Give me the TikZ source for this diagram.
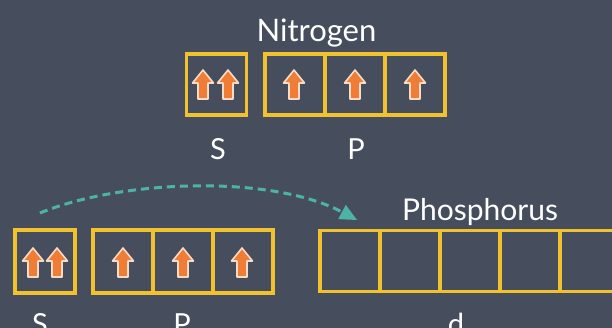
\documentclass[tikz,border=0pt]{standalone}
\usepackage{fontspec}
\setmainfont{Lato}
\usetikzlibrary{calc}
\definecolor{bg}{HTML}{464E5E}
\definecolor{boxy}{HTML}{F2C12E}
\definecolor{elor}{HTML}{F07D36}
\definecolor{elrim}{HTML}{F8DCC8}
\definecolor{arrteal}{HTML}{4DB3A6}
\tikzset{
  orb/.style={draw=boxy, line width=3.5pt, minimum width=60pt, minimum height=61pt, inner sep=0pt},
  lbl/.style={text=white, font=\fontsize{29}{30}\selectfont, anchor=base, inner sep=0pt},
  elec/.pic={\path[fill=elor, draw=elrim, line width=1.6pt, line join=round]
     (0,-15) -- (10.5,-2) -- (5,-2) -- (5,14) -- (-5,14) -- (-5,-2) -- (-10.5,-2) -- cycle;},
  jump/.style={draw=arrteal, line width=3pt, dash pattern=on 8pt off 5pt}
}
\begin{document}
\begin{tikzpicture}[x=1pt,y=-1pt]
\clip (0,0) rectangle (612,328);
\fill[bg] (0,0) rectangle (612,328);
% Nitrogen
\node[lbl, font=\fontsize{31}{32}\selectfont] (nit) at (316.5,42) {Nitrogen};
\node[orb] (s1) at (216.5,84.5) {};
\node[orb] (p1a) at (295,84.5) {};
\node[orb] (p1b) at (355,84.5) {};
\node[orb] (p1c) at (415,84.5) {};
\pic at (203,85) {elec};
\pic at (228,85) {elec};
\pic at (294,85) {elec};
\pic at (355,85) {elec};
\pic at (415,85) {elec};
\node[lbl] (ls1) at (218,160) {S};
\node[lbl] (lp1) at (356,160) {P};
% Phosphorus
\node[lbl, font=\fontsize{30}{31}\selectfont] (pho) at (480,221) {Phosphorus};
\node[orb, minimum height=63pt] (s2) at (45,261.5) {};
\node[orb, minimum height=63pt] (p2a) at (123,261.5) {};
\node[orb, minimum height=63pt] (p2b) at (183,261.5) {};
\node[orb, minimum height=63pt] (p2c) at (243,261.5) {};
\pic at (33,263) {elec};
\pic at (57,263) {elec};
\pic at (123,263) {elec};
\pic at (183,263) {elec};
\pic at (242,263) {elec};
\node[orb] (d1) at (350,261) {};
\node[orb] (d2) at (410,261) {};
\node[orb] (d3) at (470,261) {};
\node[orb] (d4) at (530,261) {};
\node[orb] (d5) at (590,261) {};
\node[lbl] (ls2) at (40,334) {S};
\node[lbl] (lp2) at (182,334) {P};
\node[lbl] (ld) at (456,334) {d};
% jump arrow
\coordinate (js) at (40,213);
\coordinate (jb) at (342,212);
\coordinate (je) at (357,220);
\draw[jump] (js) .. controls (120,180) and (270,174) .. (jb);
\fill[arrteal] (je) -- ($(jb)+(-3.8,7.1)$) -- ($(jb)+(3.8,-7.1)$) -- cycle;
\end{tikzpicture}
\end{document}
